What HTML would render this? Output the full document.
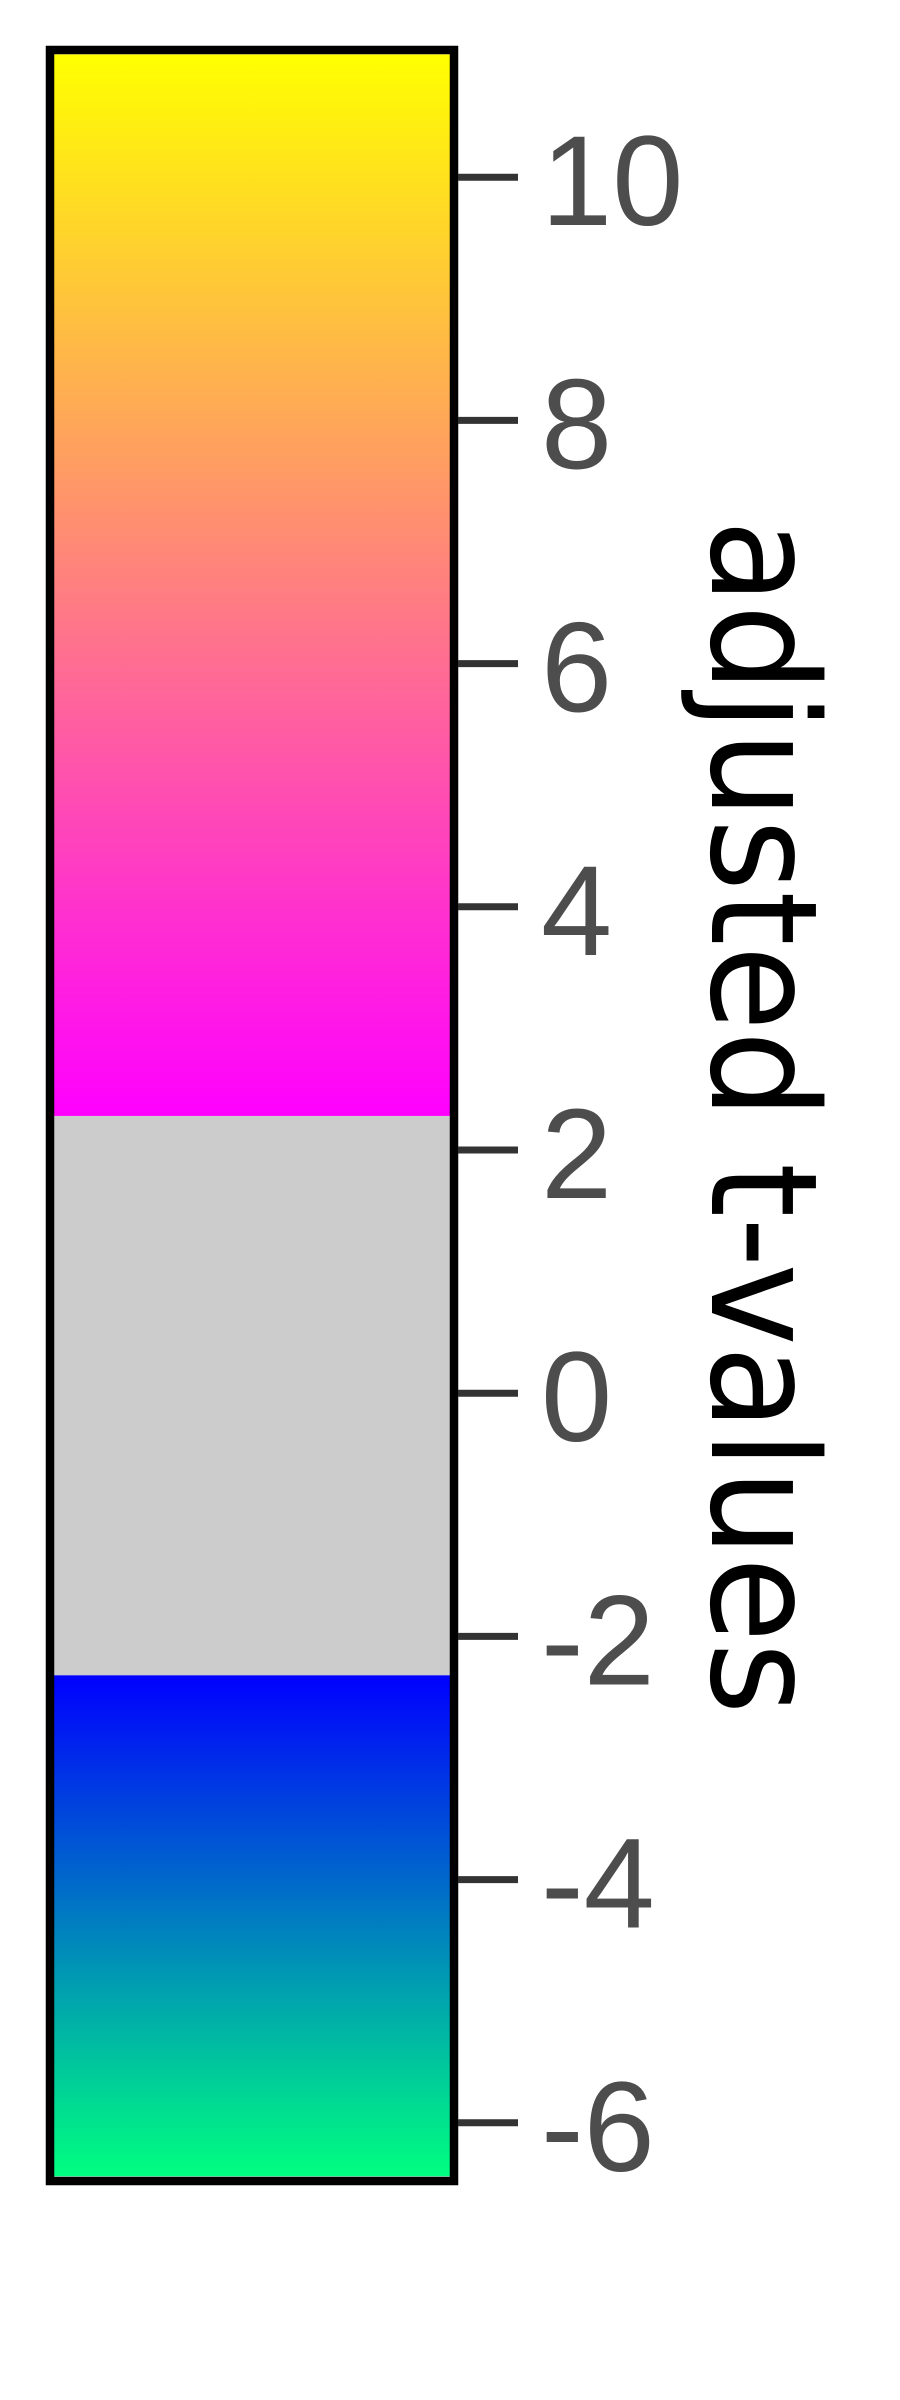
<!DOCTYPE html>
<html><head><meta charset="utf-8"><style>html,body{margin:0;padding:0;background:#fff;}svg{display:block;}</style></head>
<body>
<svg id="cb" width="900" height="2400" xmlns="http://www.w3.org/2000/svg">
<defs>
<linearGradient id="gTop" x1="0" y1="1" x2="0" y2="0"><stop offset="0" stop-color="#ff00ff"/><stop offset="1" stop-color="#ffff00"/></linearGradient>
<linearGradient id="gBot" x1="0" y1="0" x2="0" y2="1"><stop offset="0" stop-color="#0000ff"/><stop offset="1" stop-color="#00ff80"/></linearGradient>
</defs>
<g id="bands"></g>
<rect x="50" y="50" width="404" height="2131" fill="none" stroke="#000" stroke-width="8.5"/>
<g id="ticks"></g>
<text transform="translate(712,1117) rotate(90)" text-anchor="middle" font-family="DejaVu Sans, Liberation Sans, sans-serif" font-size="148" fill="#000" textLength="1195" lengthAdjust="spacingAndGlyphs">adjusted t-values</text>
</svg>
<script>
const tickValues = [10, 8, 6, 4, 2, 0, -2, -4, -6];
const tickLabels = ["10", "8", "6", "4", "2", "0", "-2", "-4", "-6"];
const colorRange = [-6.44, 11.01];
const thresholds = [-2.32, 2.28];

const NS = "http://www.w3.org/2000/svg";
function yScale(v) { return 1150 - (v - 2) * 121.6; }
const bands = document.getElementById('bands');
const ticks = document.getElementById('ticks');
const x0 = 54, x1 = 450;
function band(v0, v1, fill, name) {
  const r = document.createElementNS(NS, 'rect');
  
  
  r.setAttribute('x', x0); r.setAttribute('width', x1 - x0);
  r.setAttribute('y', yScale(v1)); r.setAttribute('height', yScale(v0) - yScale(v1));
  r.setAttribute('fill', fill);
  bands.appendChild(r);
}
band(thresholds[1], colorRange[1], 'url(#gTop)', 'positive-band');
band(thresholds[0], thresholds[1], '#cccccc', 'nonsignificant-band');
band(colorRange[0], thresholds[0], 'url(#gBot)', 'negative-band');
tickValues.forEach((v, i) => {
  const y = yScale(v);
  const l = document.createElementNS(NS, 'line');
  
  
  l.setAttribute('x1', 458); l.setAttribute('x2', 518);
  l.setAttribute('y1', y); l.setAttribute('y2', y);
  l.setAttribute('stroke', '#333'); l.setAttribute('stroke-width', 7);
  ticks.appendChild(l);
  const t = document.createElementNS(NS, 'text');
  
  
  t.setAttribute('x', 541); t.setAttribute('y', y + 48);
  t.setAttribute('font-family', 'Liberation Sans, DejaVu Sans, sans-serif');
  t.setAttribute('font-size', 128);
  t.setAttribute('fill', '#4d4d4d');
  t.textContent = tickLabels[i];
  ticks.appendChild(t);
});
</script>
</body></html>
